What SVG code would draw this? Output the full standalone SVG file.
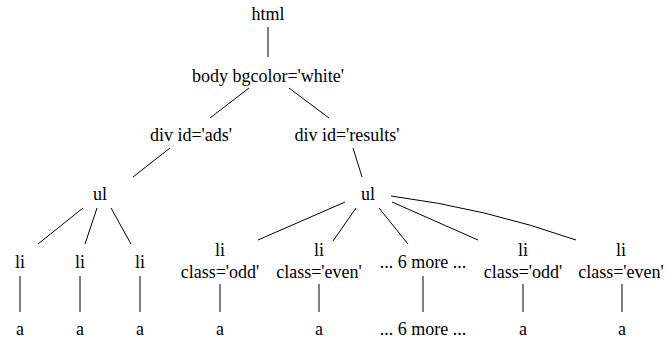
<svg xmlns="http://www.w3.org/2000/svg" width="670" height="341" viewBox="0 0 670 341">
<style>
.e line,.e path{stroke:#000;stroke-width:1;fill:none}
</style>
<rect width="670" height="341" fill="#fff"/>
<g class="e" id="connectors">
<line x1="268" y1="27" x2="268" y2="57"/>
<line x1="249" y1="88" x2="210" y2="118"/>
<line x1="289" y1="88" x2="329" y2="118"/>
<line x1="170" y1="148" x2="133" y2="177"/>
<line x1="353" y1="148" x2="362" y2="177"/>
<line x1="83" y1="208" x2="38" y2="244"/>
<line x1="97" y1="208" x2="85" y2="244"/>
<line x1="111" y1="208" x2="131" y2="244"/>
<line x1="20" y1="276" x2="20" y2="312"/>
<line x1="80" y1="276" x2="80" y2="312"/>
<line x1="140" y1="276" x2="140" y2="312"/>
<line x1="345" y1="202" x2="258" y2="240"/>
<line x1="356" y1="208" x2="333" y2="241"/>
<line x1="379" y1="208" x2="408" y2="244"/>
<line x1="392" y1="202" x2="478" y2="240"/>
<path d="M391,196 Q485,208 576,240"/>
<line x1="220" y1="284" x2="220" y2="312"/>
<line x1="319" y1="284" x2="319" y2="312"/>
<line x1="423" y1="276" x2="423" y2="312"/>
<line x1="523" y1="284" x2="523" y2="312"/>
<line x1="622" y1="284" x2="622" y2="312"/>
</g>
<g id="nodes" font-family="Liberation Serif" font-size="18" fill="#000" text-anchor="middle">
<g id="html"><text x="268" y="20">html</text></g>
<g id="body"><text x="268" y="82">body bgcolor='white'</text></g>
<g id="div_ads"><text x="191" y="141">div id='ads'</text></g>
<g id="div_results"><text x="347" y="141">div id='results'</text></g>
<g id="ul_ads"><text x="100" y="200">ul</text></g>
<g id="ul_results"><text x="368" y="200">ul</text></g>
<g id="li_a1"><text x="20" y="268">li</text></g>
<g id="li_a2"><text x="80" y="268">li</text></g>
<g id="li_a3"><text x="140" y="268">li</text></g>
<g id="a_a1"><text x="20" y="335">a</text></g>
<g id="a_a2"><text x="80" y="335">a</text></g>
<g id="a_a3"><text x="140" y="335">a</text></g>
<g id="li_r1"><text x="220" y="256">li</text><text x="220" y="278">class='odd'</text></g>
<g id="li_r2"><text x="319" y="256">li</text><text x="319" y="278">class='even'</text></g>
<g id="li_more"><text x="423" y="268">... 6 more ...</text></g>
<g id="li_r3"><text x="523" y="256">li</text><text x="523" y="278">class='odd'</text></g>
<g id="li_r4"><text x="621" y="256">li</text><text x="621" y="278">class='even'</text></g>
<g id="a_r1"><text x="220" y="335">a</text></g>
<g id="a_r2"><text x="319" y="335">a</text></g>
<g id="a_more"><text x="423" y="335">... 6 more ...</text></g>
<g id="a_r3"><text x="523" y="335">a</text></g>
<g id="a_r4"><text x="622" y="335">a</text></g>
</g>
</svg>
